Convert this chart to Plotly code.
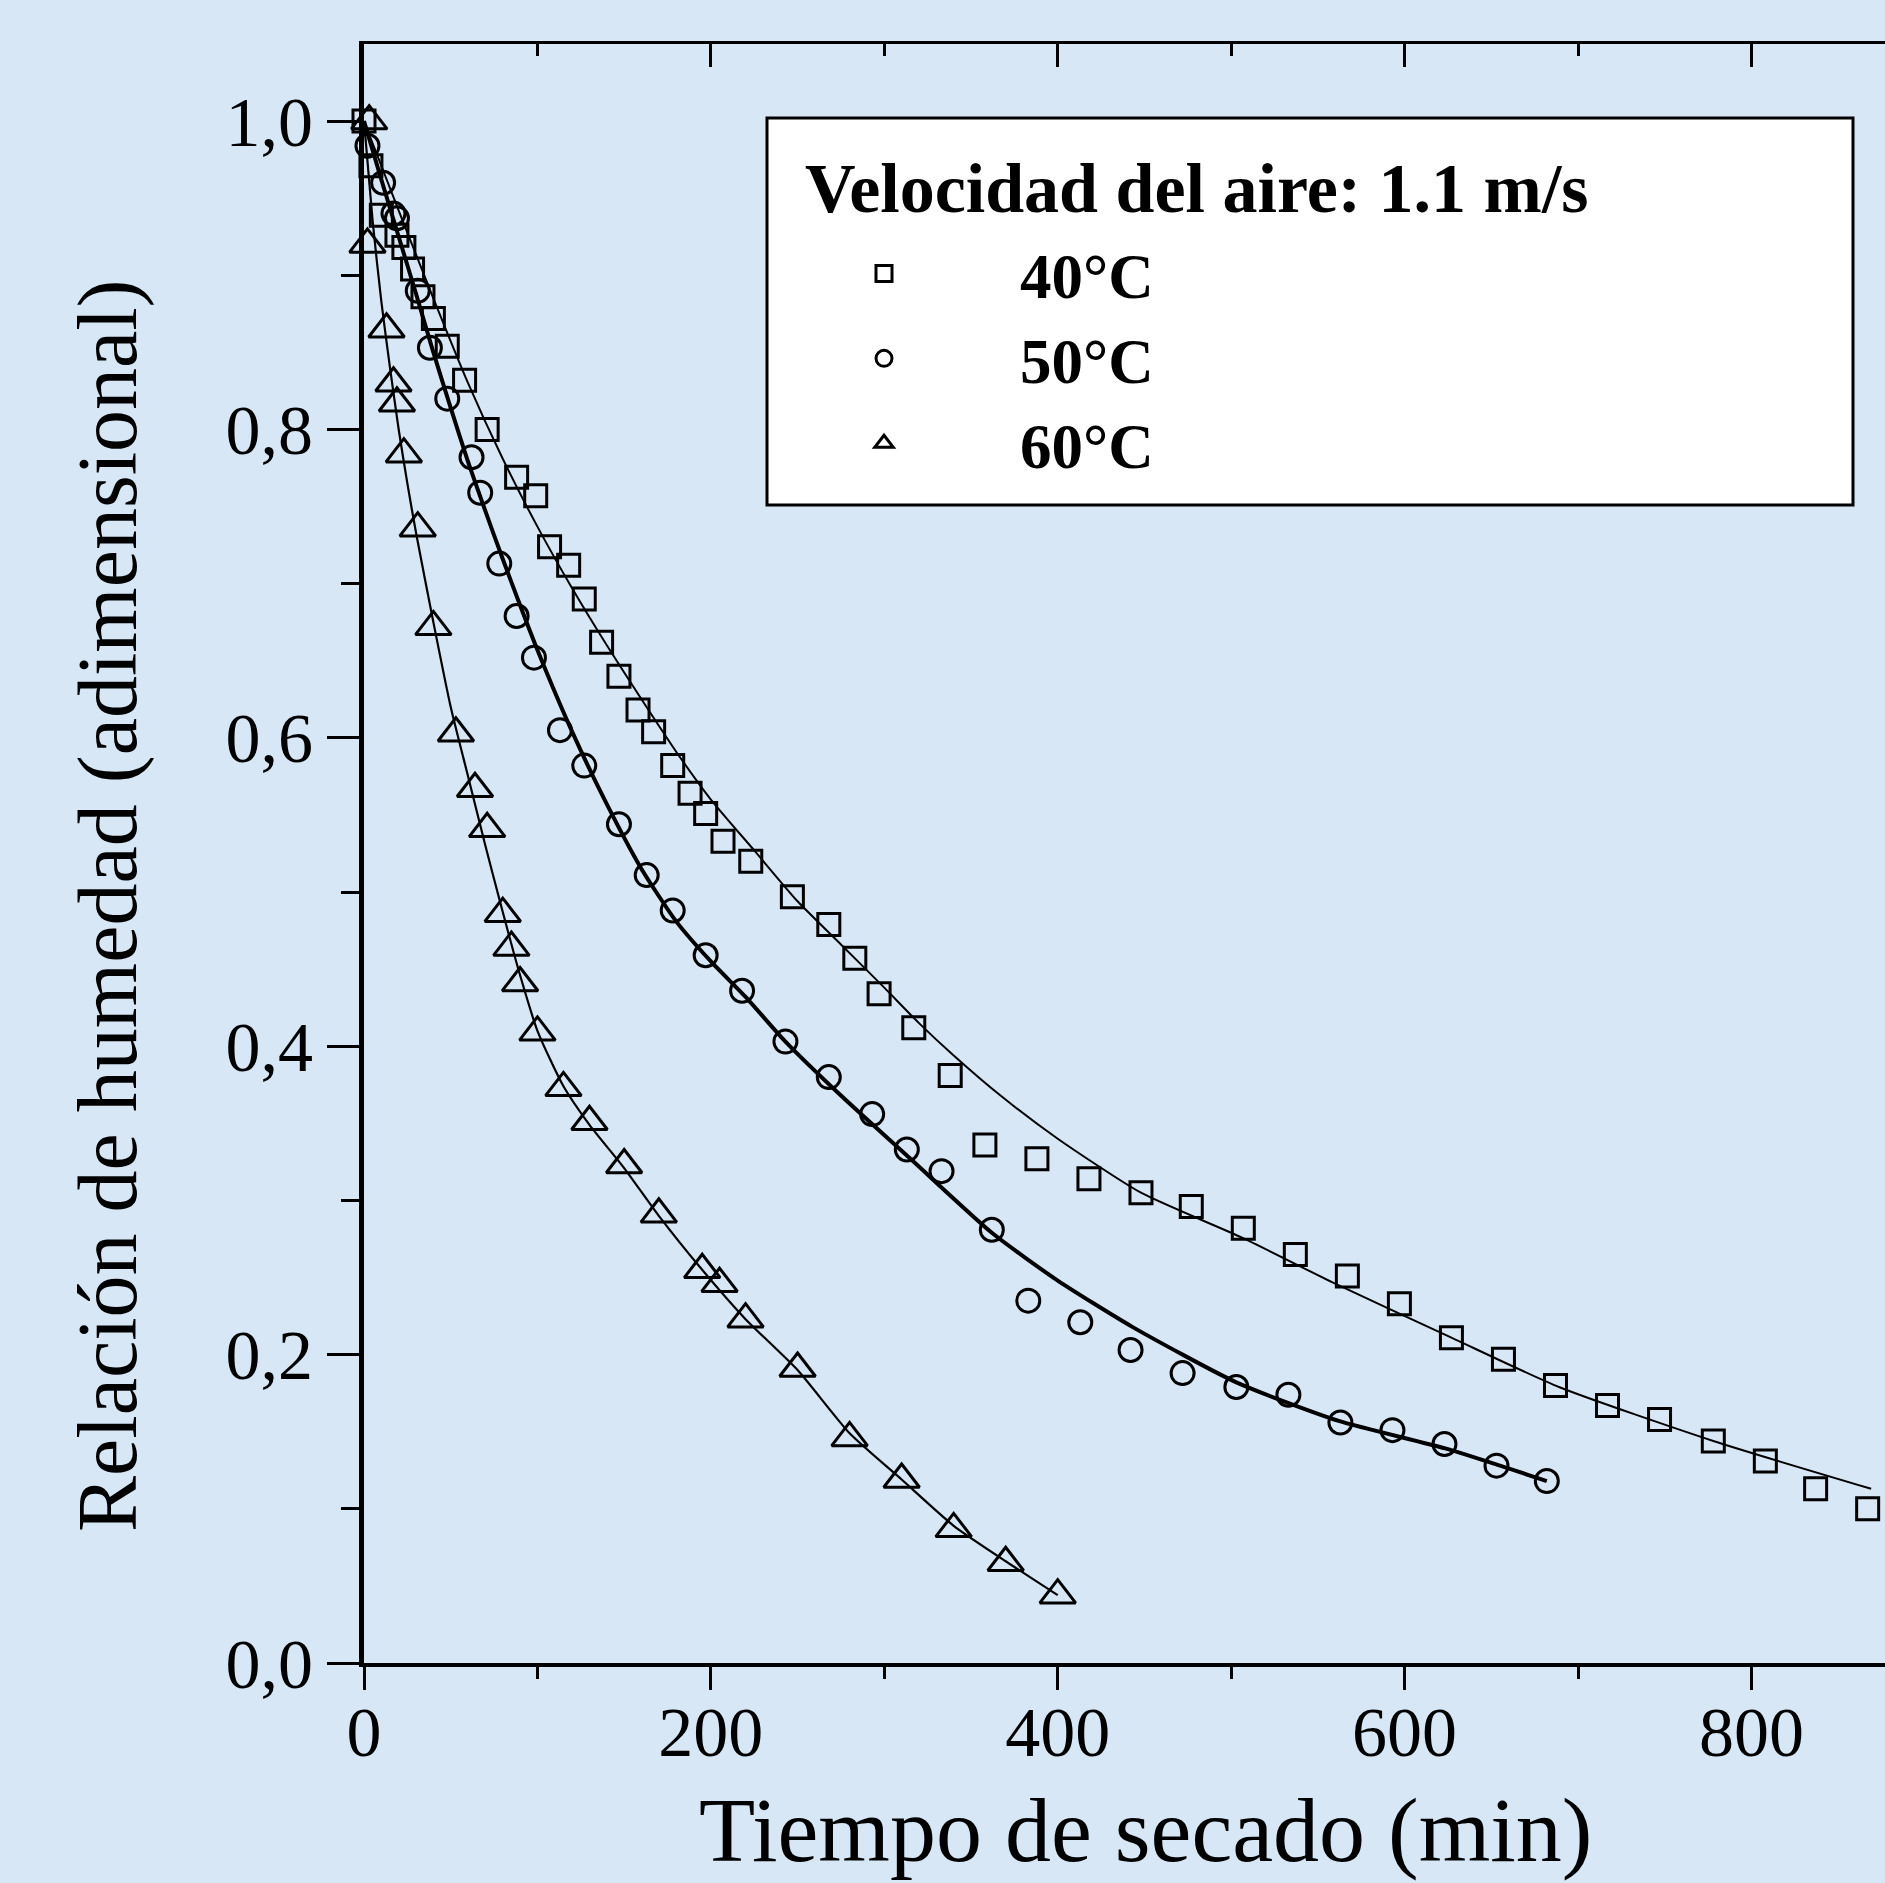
import plotly.graph_objects as go

# ---------------- data ----------------
t40 = [0, 4, 10, 19, 23, 28, 34, 40, 48, 58, 71, 88, 99, 107, 118, 127, 137, 147, 158, 167,
       178, 188, 197, 207, 223, 247, 268, 283, 297, 317, 338, 358, 388, 418, 448, 477, 507,
       537, 567, 597, 627, 657, 687, 717, 747, 778, 808, 837, 867]
mr40 = [1.000, 0.971, 0.939, 0.926, 0.918, 0.904, 0.886, 0.872, 0.854, 0.832, 0.800, 0.769,
        0.757, 0.724, 0.712, 0.690, 0.662, 0.640, 0.618, 0.604, 0.582, 0.564, 0.551, 0.533,
        0.520, 0.497, 0.479, 0.457, 0.434, 0.412, 0.381, 0.336, 0.327, 0.314, 0.305, 0.296,
        0.282, 0.265, 0.251, 0.233, 0.211, 0.197, 0.180, 0.167, 0.158, 0.144, 0.131, 0.113, 0.100]

t50 = [2, 11, 17, 19, 31, 38, 48, 62, 67, 78, 88, 98, 113, 127, 147, 163, 178, 197, 218, 243,
       268, 293, 313, 333, 362, 383, 413, 442, 472, 503, 533, 563, 593, 623, 653, 682]
mr50 = [0.984, 0.960, 0.940, 0.937, 0.890, 0.853, 0.820, 0.782, 0.759, 0.713, 0.679, 0.652,
        0.605, 0.582, 0.544, 0.511, 0.488, 0.459, 0.436, 0.403, 0.380, 0.356, 0.333, 0.319,
        0.281, 0.235, 0.221, 0.203, 0.188, 0.179, 0.174, 0.156, 0.151, 0.142, 0.128, 0.118]

t60 = [3, 2, 13, 17, 19, 23, 31, 40, 53, 64, 71, 80, 85, 90, 100, 115, 130, 150, 170, 195,
       205, 220, 250, 280, 310, 340, 370, 400]
mr60 = [1.000, 0.920, 0.865, 0.830, 0.817, 0.784, 0.736, 0.672, 0.603, 0.567, 0.541, 0.486,
        0.464, 0.441, 0.409, 0.373, 0.351, 0.323, 0.291, 0.255, 0.246, 0.223, 0.191, 0.146,
        0.119, 0.087, 0.065, 0.044]

# fitted curves
fit40_t = [0, 20, 40, 60, 80, 100, 120, 140, 160, 180, 200, 225, 250, 275, 300, 320, 340,
           367, 400, 448, 506, 560, 627, 689, 778, 869]
fit40_mr = [1.000, 0.942, 0.885, 0.830, 0.781, 0.737, 0.697, 0.660, 0.625, 0.591, 0.560,
            0.527, 0.494, 0.466, 0.438, 0.415, 0.394, 0.368, 0.340, 0.305, 0.276, 0.246,
            0.211, 0.179, 0.144, 0.113]

fit50_t = [0, 10, 20, 30, 40, 50, 60, 70, 80, 90, 100, 120, 140, 160, 180, 200, 220, 243,
           275, 316, 362, 400, 443, 503, 562, 624, 682]
fit50_mr = [1.000, 0.962, 0.925, 0.888, 0.850, 0.814, 0.779, 0.747, 0.716, 0.686, 0.657,
            0.604, 0.557, 0.515, 0.481, 0.455, 0.432, 0.403, 0.368, 0.326, 0.279, 0.248,
            0.218, 0.182, 0.157, 0.139, 0.118]

fit60_t = [0, 5, 10, 15, 20, 25, 30, 40, 50, 60, 70, 80, 90, 100, 115, 130, 150, 170, 195,
           220, 250, 280, 310, 340, 370, 400]
fit60_mr = [1.000, 0.935, 0.883, 0.840, 0.800, 0.765, 0.733, 0.675, 0.620, 0.575, 0.530,
            0.487, 0.446, 0.410, 0.374, 0.349, 0.321, 0.290, 0.255, 0.223, 0.190, 0.149,
            0.119, 0.089, 0.066, 0.044]

series_names = ["40°C", "50°C", "60°C"]
y_ticks = [0.0, 0.2, 0.4, 0.6, 0.8, 1.0]
y_ticktext = ["0,0", "0,2", "0,4", "0,6", "0,8", "1,0"]
x_ticks = [0, 200, 400, 600, 800]
x_ticktext = ["0", "200", "400", "600", "800"]

# ---------------- figure ----------------
FONT = "Liberation Serif, Times New Roman, serif"
BG = "#d8e7f6"
XR = [0, 877]
YR = [0, 1.05]

fig = go.Figure()

fig.add_trace(go.Scatter(x=fit40_t, y=fit40_mr, mode="lines", showlegend=False,
                         line=dict(color="black", width=2, shape="spline", smoothing=0.6)))
fig.add_trace(go.Scatter(x=fit50_t, y=fit50_mr, mode="lines", showlegend=False,
                         line=dict(color="black", width=4, shape="spline", smoothing=0.6)))
fig.add_trace(go.Scatter(x=fit60_t, y=fit60_mr, mode="lines", showlegend=False,
                         line=dict(color="black", width=2.2, shape="spline", smoothing=0.6)))

fig.add_trace(go.Scatter(x=t40, y=mr40, mode="markers", name=series_names[0], cliponaxis=False,
                         marker=dict(symbol="square-open", size=22, color="black",
                                     line=dict(width=3, color="black"))))
fig.add_trace(go.Scatter(x=t50, y=mr50, mode="markers", name=series_names[1], cliponaxis=False,
                         marker=dict(symbol="circle-open", size=23, color="black",
                                     line=dict(width=3, color="black"))))
fig.add_trace(go.Scatter(x=t60, y=mr60, mode="markers", name=series_names[2], cliponaxis=False,
                         marker=dict(symbol="triangle-up-open", size=31, color="black",
                                     line=dict(width=3, color="black"))))

# empty trace to anchor the top mirror axis
fig.add_trace(go.Scatter(x=[], y=[], xaxis="x2", showlegend=False, hoverinfo="skip"))

W, H = 1885, 1883
ML, MR, MT, MB = 364, 0, 44, 220
PW, PH = W - ML - MR, H - MT - MB


def px(xp):
    return (xp - ML) / PW


def py(yp):
    return (H - MB - yp) / PH


fig.update_layout(
    width=W, height=H,
    margin=dict(l=ML, r=MR, t=MT, b=MB, pad=0),
    paper_bgcolor=BG, plot_bgcolor=BG,
    font=dict(family=FONT, color="black"),
    xaxis=dict(range=XR, showgrid=False, zeroline=False, showline=True, linecolor="black",
               linewidth=4, ticks="outside", ticklen=23, tickwidth=3, tickcolor="black",
               tickvals=x_ticks, ticktext=x_ticktext, ticklabelstandoff=-18,
               tickfont=dict(family=FONT, size=70, color="black"),
               minor=dict(tickvals=[100, 300, 500, 700], ticks="outside", ticklen=12,
                          tickwidth=3, tickcolor="black", showgrid=False)),
    xaxis2=dict(range=XR, overlaying="x", side="top", anchor="y", showgrid=False,
                zeroline=False, showline=True, linecolor="black", linewidth=3,
                ticks="inside", ticklen=23, tickwidth=3, tickcolor="black",
                tickvals=x_ticks, showticklabels=False,
                minor=dict(tickvals=[100, 300, 500, 700], ticks="inside", ticklen=12,
                           tickwidth=3, tickcolor="black", showgrid=False)),
    yaxis=dict(range=YR, showgrid=False, zeroline=False, showline=True, linecolor="black",
               linewidth=5, ticks="outside", ticklen=32, tickwidth=3, tickcolor="black",
               tickvals=y_ticks, ticktext=y_ticktext, ticklabelstandoff=0,
               tickfont=dict(family=FONT, size=70, color="black"),
               minor=dict(tickvals=[0.1, 0.3, 0.5, 0.7, 0.9], ticks="outside", ticklen=18,
                          tickwidth=3, tickcolor="black", showgrid=False)),
    showlegend=True,
    legend=dict(x=px(748), y=py(226), xanchor="left", yanchor="top",
                bgcolor="rgba(0,0,0,0)", borderwidth=0, itemwidth=262,
                font=dict(family=FONT, size=63, color="black", weight="bold"),
                tracegroupgap=0),
)

# legend frame
fig.add_shape(type="rect", xref="paper", yref="paper",
              x0=px(767), x1=px(1853), y0=py(505), y1=py(118),
              fillcolor="white", line=dict(color="black", width=3), layer="below")

# legend title
fig.add_annotation(text="<b>Velocidad del aire: 1.1 m/s</b>", xref="paper", yref="paper",
                   x=px(803), y=py(188), xanchor="left", yanchor="middle", showarrow=False,
                   font=dict(family=FONT, size=70, color="black"))

# axis titles
fig.add_annotation(text="Tiempo de secado (min)", xref="paper", yref="paper",
                   x=px(1145), y=py(1830), xanchor="center", yanchor="middle",
                   showarrow=False, font=dict(family=FONT, size=92, color="black"))
fig.add_annotation(text="Relación de humedad (adimensional)", xref="paper", yref="paper",
                   x=px(108), y=py(906), xanchor="center", yanchor="middle", textangle=-90,
                   showarrow=False, font=dict(family=FONT, size=84, color="black"))

fig.write_html("out.html", config={"displayModeBar": False},
               post_script="document.body.style.margin='0px';")
